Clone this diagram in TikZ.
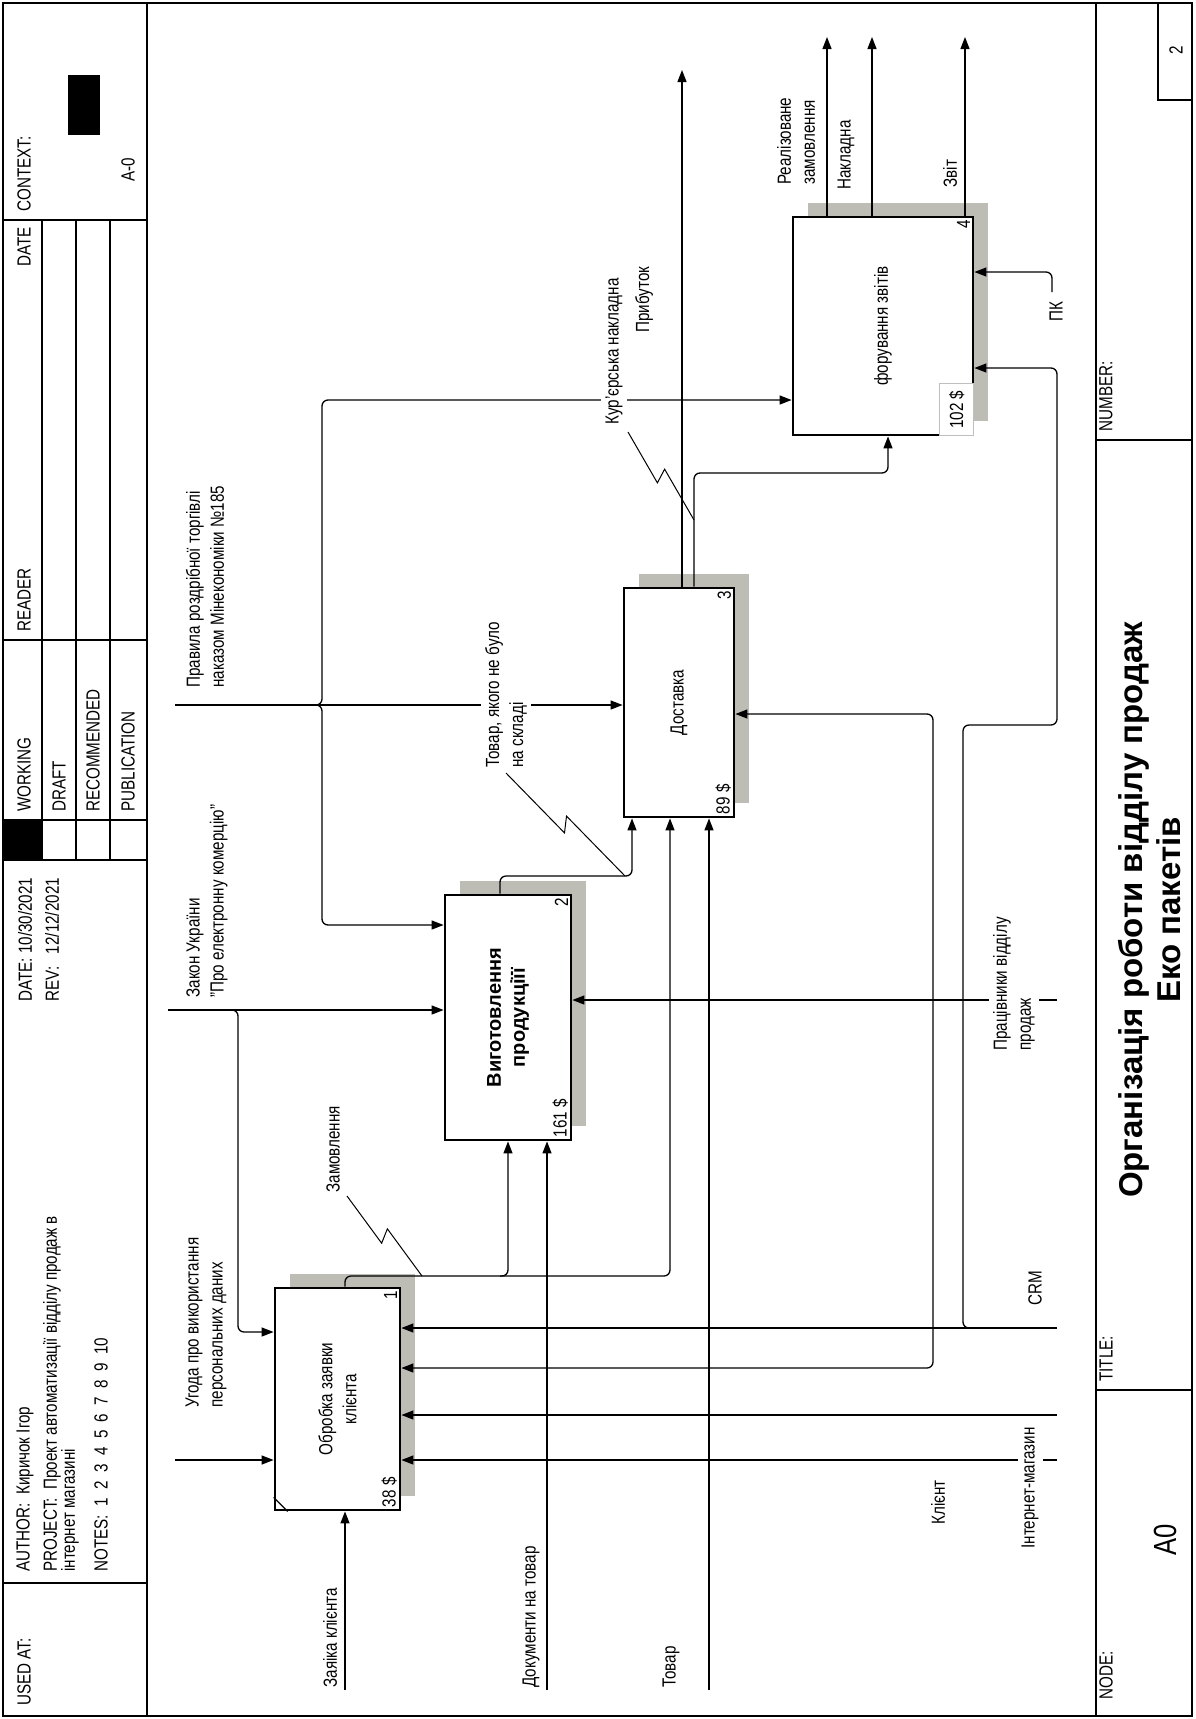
\documentclass[tikz,border=0pt]{standalone}
\usepackage{fontspec}
\setmainfont{Liberation Sans}[FakeStretch=0.8]
\newfontfamily\titlefont{Liberation Sans}
\usetikzlibrary{arrows.meta,calc,shadows}
\definecolor{shadowgrey}{RGB}{190,189,181}
\newcommand\lblfont{\fontsize{9.5}{12}\selectfont}
% squiggle from a label to its arrow
\newcommand\zig[2]{%
  \draw[line width=0.5pt] (#1) -- ($(#1)!.53!(#2)!3.5pt!-90:(#2)$)
    -- ($(#1)!.47!(#2)!3.5pt!90:(#2)$) -- (#2);%
}
\tikzset{%
  >={Triangle[length=6pt,width=4.5pt]},
  frame/.style={line width=0.6pt},
  fbox/.style={draw,line width=1.4pt,fill=white,inner sep=0pt,
    general shadow={fill=shadowgrey,shadow xshift=7.5pt,shadow yshift=7pt}},
  arr/.style={->,line width=0.65pt,rounded corners=3pt},
  lbl/.style={rotate=90,anchor=west,inner sep=0pt,align=left,font=\lblfont},
  lblw/.style={lbl,fill=white,inner sep=2pt},
  boxtxt/.style={rotate=90,align=center,font=\lblfont},
  num/.style={rotate=90,inner sep=2pt,font=\lblfont}
}
\begin{document}
\begin{tikzpicture}[x=0.5pt,y=-0.5pt]
\useasboundingbox (0,0) rectangle (1195,1719);

% form
\draw[frame] (3,3) rectangle (1192,1716);
\draw[frame] (147,3) -- (147,1716);
\draw[frame] (1096,3) -- (1096,1716);
\foreach \c in {1583,860,820,640,220}
  \draw[frame] (3,\c) -- (147,\c);
\foreach \r in {42,76,110}
  \draw[frame] (\r,220) -- (\r,860);
\fill (3,820) rectangle (42,860);
\fill (68,75) rectangle (100,135);
\foreach \c in {1390,440}
  \draw[frame] (1096,\c) -- (1192,\c);
\draw[frame] (1158,3) rectangle (1192,100);

\node[lbl] (usedat) at (24,1706) {USED AT:};
\node[lbl] (author) at (25,1572) {AUTHOR:\ \ Киричок Ігор};
\node[lbl] (project) at (52,1572) {PROJECT:\ \ Проект автоматизації відділу продаж в};
\node[lbl] (project2) at (70,1572) {інтернет магазині};
\node[lbl] (notes) at (101,1572) {NOTES:\ \ 1\ \ 2\ \ 3\ \ 4\ \ 5\ \ 6\ \ 7\ \ 8\ \ 9\ \ 10};
\node[lbl] (date) at (25,1002) {DATE:\ 10/30/2021};
\node[lbl] (rev) at (52,1002) {REV:\ \ \ 12/12/2021};
\node[lbl] (working) at (24,812) {WORKING};
\node[lbl] (draft) at (59,812) {DRAFT};
\node[lbl] (recom) at (93,812) {RECOMMENDED};
\node[lbl] (publ) at (128,812) {PUBLICATION};
\node[lbl] (reader) at (24,632) {READER};
\node[lbl,anchor=east] (rdate) at (24,227) {DATE};
\node[lbl] (context) at (24,212) {CONTEXT:};
\node[lbl] (azero) at (128,182) {A-0};

\node[lbl] (nodelbl) at (1106,1700) {NODE:};
\node[rotate=90,font=\fontsize{16}{18}\selectfont] (nodeno) at (1165,1540) {A0};
\node[lbl] (titlelbl) at (1106,1382) {TITLE:};
\node[rotate=90,align=center,font=\titlefont\bfseries\fontsize{16.5}{19}\selectfont] (title)
  at (1150,910) {Організація роботи відділу продаж\\Еко пакетів};
\node[lbl] (numlbl) at (1106,432) {NUMBER:};
\node[rotate=90,font=\lblfont] (pageno) at (1176,50) {2};

% boxes
\node[fbox,minimum width=62.5pt,minimum height=111pt] (b1) at (337.5,1399) {};
\node[fbox,minimum width=63pt,minimum height=122.5pt] (b2) at (508,1017.5) {};
\node[fbox,minimum width=55pt,minimum height=114.5pt] (b3) at (679,702.5) {};
\node[fbox,minimum width=90pt,minimum height=109pt] (b4) at (883,326) {};
\draw[line width=0.6pt] ($(b1.south west)+(0,-14)$) -- ($(b1.south west)+(14,0)$);

\node[boxtxt] at (b1) {Обробка заявки\\клієнта};
\node[boxtxt,font=\titlefont\bfseries\fontsize{10}{12}\selectfont] at (b2) {Виготовлення\\продукціїї};
\node[boxtxt] at (b3) {Доставка};
\node[boxtxt] at (b4) {форування звітів};
\node[num,anchor=south east] at (b1.north east) {1};
\node[num,anchor=south east] at (b2.north east) {2};
\node[num,anchor=south east] at (b3.north east) {3};
\node[num,anchor=south east] at (b4.north east) {4};
\node[num,anchor=south west] at (b1.south east) {38 \$};
\node[num,anchor=south west] at (b2.south east) {161 \$};
\node[num,anchor=south west] at (b3.south east) {89 \$};
\node[num,anchor=south west,draw=gray!50,fill=white,line width=0.4pt,minimum height=17pt,
  minimum width=26pt,outer sep=0pt] at ($(b4.south east)+(-0.7,-0.7)$) {102 \$};

% boundary ends
\coordinate (zak) at (168,1010);
\coordinate (ugo) at (175,1460);
\coordinate (pra) at (175,705);
\coordinate (zay) at (345,1690);
\coordinate (doc) at (547,1690);
\coordinate (tov) at (709,1690);
\coordinate (prib) at (682,70);
\coordinate (real) at (827,37);
\coordinate (nakl) at (872,37);
\coordinate (zvit) at (965,37);
\coordinate (crm) at (1057,1328);
\coordinate (kl) at (1057,1415);
\coordinate (inet) at (1057,1460);
\coordinate (prac) at (1057,1000);
\coordinate (pk) at (1052,292);

% controls
\draw[arr] (zak) -- (zak -| b2.west);
\draw[arr] (230,1010) -| (238,1332) -- (b1.west |- 0,1332);
\draw[arr] (ugo) -- (ugo -| b1.west);
\draw[arr] (pra) -- (pra -| b3.west);
\draw[arr] (314,705) -| (322,925) -- (b2.west |- 0,925);
\draw[arr] (314,705) -| (322,400) -- (b4.west |- 0,400);

% inputs
\draw[arr] (zay) -- (zay |- b1.south);
\draw[arr] (doc) -- (doc |- b2.south);
\draw[arr] (tov) -- (tov |- b3.south);

% outputs
\draw[arr] (b1.north -| 345,0) |- (670,1276) -- (b3.south -| 670,0);
\draw[arr] (500,1276) -| (b2.south -| 508,0);
\draw[arr] (b2.north -| 500,0) |- (632,876) -- (b3.south -| 632,0);
\draw[arr] (b3.north -| prib) -- (prib);
\draw[arr] (b3.north -| 694,0) |- (888,473) -- (b4.south -| 888,0);
\foreach \o in {real,nakl,zvit}
  \draw[arr] (b4.north -| \o) -- (\o);

% mechanisms
\draw[arr] (pk) |- (b4.east |- 0,272);
\draw[arr] (crm) -- (crm -| b1.east);
\draw[arr] (970,1328) -| (963,725) -| (1057,368) -- (b4.east |- 0,368);
\draw[arr] (kl) -- (kl -| b1.east);
\draw[arr] (inet) -- (inet -| b1.east);
\draw[arr] (prac) -- (prac -| b2.east);
\draw[arr,<->] (b3.east |- 0,714) -| (933,1368) -- (b1.east |- 0,1368);

% labels
\node[lbl] (lugo) at (206,1408) {Угода про використання\\персональних даних};
\node[lbl] (lzak) at (207,998) {Закон України\\"Про електронну комерцію"};
\node[lbl] (lpra) at (205,688) {Правила роздрібної торгівлі\\наказом Мінекономіки №185};
\node[lbl] (lzam) at (333,1193) {Замовлення};
\node[lblw] (ltov2) at (506,772) {Товар, якого не було\\на складі};
\node[lblw] (lkur) at (614,429) {Кур'єрська накладна};
\node[lbl] (lprib) at (644,333) {Прибуток};
\node[lbl] (lreal) at (796,185) {Реалізоване\\замовлення};
\node[lbl] (lnakl) at (846,190) {Накладна};
\node[lbl] (lzvit) at (950,188) {Звіт};
\node[lbl] (lpk) at (1056,322) {ПК};
\node[lbl] (lcrm) at (1035,1306) {CRM};
\node[lbl] (lkl) at (938,1525) {Клієнт};
\node[lblw,anchor=center] (linet) at (1030,1488) {Інтернет-магазин};
\node[lblw] (lprac) at (1014,1055) {Працівники відділу\\продаж};
\node[lbl] (lzay) at (330,1688) {Заяіка клієнта};
\node[lbl] (ldoc) at (531,1688) {Документи на товар};
\node[lbl] (ltov) at (671,1688) {Товар};

\zig{347,1196}{422,1276}
\zig{506,773}{625,876}
\zig{628,432}{694,520}
\end{tikzpicture}
\end{document}
